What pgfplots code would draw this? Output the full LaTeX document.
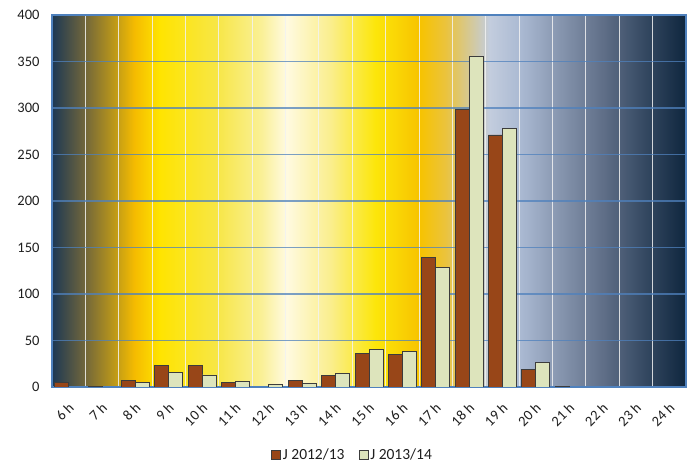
\documentclass[border=0pt]{standalone}
\usepackage{pgfplots}
\pgfplotsset{compat=1.18}
\usepackage{fontspec}
\setmainfont{Carlito}
\definecolor{brownbar}{RGB}{152,70,24}
\definecolor{lightbar}{RGB}{221,228,188}
\definecolor{barborder}{RGB}{60,60,60}
\definecolor{axisblue}{RGB}{79,129,189}
\definecolor{txt}{RGB}{30,30,30}
\definecolor{g0}{RGB}{28,56,84}
\definecolor{g1}{RGB}{110,100,60}
\definecolor{g2}{RGB}{200,160,20}
\definecolor{g3}{RGB}{245,187,0}
\definecolor{g4}{RGB}{255,228,0}
\definecolor{g5}{RGB}{247,230,70}
\definecolor{g6}{RGB}{250,240,150}
\definecolor{g7}{RGB}{255,250,225}
\definecolor{g8}{RGB}{250,238,140}
\definecolor{g9}{RGB}{252,230,10}
\definecolor{g10}{RGB}{247,195,0}
\definecolor{g11}{RGB}{235,195,60}
\definecolor{g12}{RGB}{195,205,222}
\definecolor{g13}{RGB}{170,185,210}
\definecolor{g14}{RGB}{135,150,175}
\definecolor{g15}{RGB}{95,110,135}
\definecolor{g16}{RGB}{55,75,100}
\definecolor{g17}{RGB}{15,38,62}
\pgfdeclarehorizontalshading{bgshade}{100bp}{%
color(0bp)=(g0); color(25bp)=(g0);
color(27.5bp)=(g1); color(30.25bp)=(g2); color(31.5bp)=(g3);
color(33.5bp)=(g4); color(38bp)=(g5); color(41.5bp)=(g6);
color(43.5bp)=(g7); color(47bp)=(g8); color(50.5bp)=(g9);
color(54bp)=(g10); color(56bp)=(g11); color(59.5bp)=(g12);
color(62bp)=(g13); color(65bp)=(g14); color(68.5bp)=(g15);
color(71.5bp)=(g16); color(75bp)=(g17); color(100bp)=(g17)}
\begin{document}
\begin{tikzpicture}
\useasboundingbox (0bp,0bp) rectangle (692bp,464bp);
\begin{axis}[
  at={(52bp,77bp)}, anchor=south west,
  scale only axis, width=634bp, height=372bp,
  xmin=-0.5, xmax=18.5, ymin=0, ymax=400,
  ytick={0,50,...,400},
  xtick={0,...,18},
  xticklabels={6 h,7 h,8 h,9 h,10 h,11 h,12 h,13 h,14 h,15 h,16 h,17 h,18 h,19 h,20 h,21 h,22 h,23 h,24 h},
  minor xtick={0.5,1.5,...,17.5},
  major tick length=0pt, minor tick length=0pt,
  ymajorgrids, xminorgrids,
  major grid style={draw=axisblue, opacity=0.75, line width=1.5bp},
  minor grid style={draw=white!90!gray, opacity=0.85, line width=1bp},
  axis background/.style={shade, shading=bgshade},
  axis line style={draw=axisblue, line width=1.2bp},
  tick label style={font=\fontsize{14.5bp}{16bp}\selectfont, text=txt},
  /pgf/number format/assume math mode=true,
  yticklabel style={xshift=-9bp},
  xticklabel style={xshift=5bp, yshift=-16bp, rotate=45, anchor=east},
  ybar=0pt, bar width=14bp,
  legend style={at={(0.474,-0.183)}, anchor=center, draw=none, fill=none,
    legend columns=2, font=\fontsize{15.5bp}{17bp}\selectfont, text=txt,
    /tikz/every even column/.append style={column sep=12bp},
    legend cell align=left},
  legend image code/.code={\draw[#1, line width=0.8bp] (0bp,-4.5bp) rectangle (9bp,4.5bp);},
]
\addplot[fill=brownbar, draw=barborder, line width=0.8bp] coordinates {
(0,5) (1,1) (2,7) (3,23) (4,23) (5,5) (7,7) (8,12) (9,36) (10,35) (11,139) (12,298) (13,271) (14,19) (15,1)};
\addlegendentry{J 2012/13}
\addplot[fill=lightbar, draw=barborder, line width=0.8bp] coordinates {
(2,5) (3,16) (4,13) (5,6) (6,3) (7,4) (8,15) (9,40) (10,38) (11,129) (12,355) (13,278) (14,26)};
\addlegendentry{J 2013/14}
\end{axis}
\end{tikzpicture}
\end{document}
